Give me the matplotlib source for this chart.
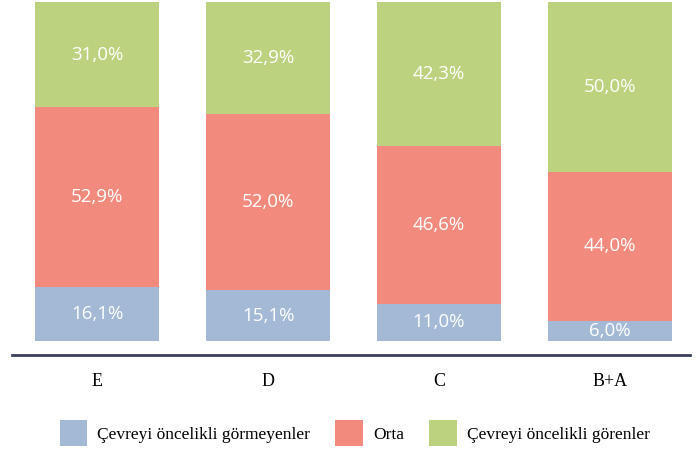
import matplotlib.pyplot as plt
import numpy as np

categories = ["E", "D", "C", "B+A"]
series_names = ["Çevreyi öncelikli görmeyenler", "Orta", "Çevreyi öncelikli görenler"]
not_priority = [16.1, 15.1, 11.0, 6.0]
middle = [52.9, 52.0, 46.6, 44.0]
priority = [31.0, 32.9, 42.3, 50.0]
colors = ["#A4B9D6", "#F28B7E", "#BDD27E"]

fig = plt.figure(figsize=(6.97, 4.5), dpi=100)
ax = fig.add_axes([0.0172, 0.211, 0.9728, 0.7846])

x = np.arange(len(categories))
bottom = np.zeros(len(categories))
for name, vals, col in zip(series_names, [not_priority, middle, priority], colors):
    vals = np.array(vals)
    ax.bar(x, vals, bottom=bottom, width=0.725, color=col, label=name)
    for xi, b, v in zip(x, bottom, vals):
        ax.text(xi, b + v / 2, f"{v:.1f}%".replace(".", ","), ha="center", va="center",
                color="white", fontsize=13.5, family="Open Sans")
    bottom += vals

ax.set_xlim(-0.5, 3.47)
ax.set_ylim(-4.1, 100)
for s in ["top", "right", "left"]:
    ax.spines[s].set_visible(False)
ax.spines["bottom"].set_color("#3A3F5C")
ax.spines["bottom"].set_linewidth(2)
ax.set_yticks([])
ax.set_xticks(x)
ax.set_xticklabels(categories, family="Liberation Serif", fontsize=13)
ax.tick_params(axis="x", length=0, pad=13)

fig.legend(loc="center", bbox_to_anchor=(0.509, 0.037), ncol=3, frameon=False,
           prop={"family": "Liberation Serif", "size": 12.5}, handlelength=1.6,
           handleheight=1.95, columnspacing=1.45, handletextpad=0.57)

fig.savefig("out.png", dpi=100)
